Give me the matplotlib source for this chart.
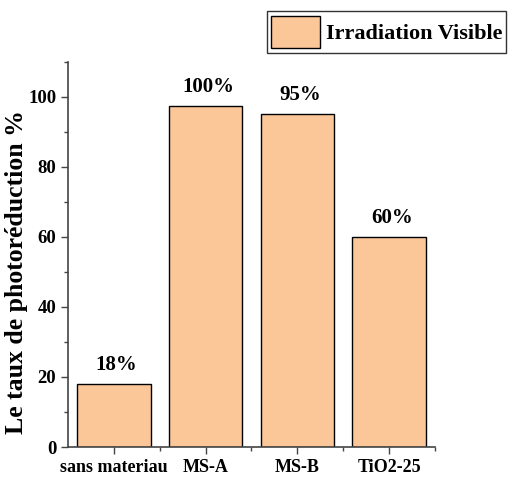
import matplotlib
matplotlib.use('Agg')
import matplotlib.pyplot as plt
from matplotlib.ticker import MultipleLocator, FixedLocator

plt.rcParams['font.family'] = ['Liberation Serif', 'DejaVu Serif']
plt.rcParams['font.weight'] = 'bold'

categories = ["sans materiau", "MS-A", "MS-B", "TiO2-25"]
values = [18, 97.5, 95.2, 60]
labels = ["18%", "100%", "95%", "60%"]
series_name = "Irradiation Visible"

FILL = '#FBC799'
AXC = '#444444'

fig = plt.figure(figsize=(5.08, 4.83), dpi=100)
ax = fig.add_axes([0.134, 0.0745, 0.722, 0.7975])

x = list(range(len(categories)))
bars = ax.bar(x, values, width=0.8, color=FILL, edgecolor='black',
              linewidth=1.0, label=series_name)

for xi, v, lab in zip(x, values, labels):
    ax.text(xi + 0.03, v + 2.5, lab, ha='center', va='bottom',
            fontsize=15, fontweight='bold')

ax.set_xlim(-0.5, 3.5)
ax.set_ylim(0, 110)
ax.set_xticks(x)
ax.set_xticklabels(categories, fontsize=13, fontweight='bold')
ax.xaxis.set_minor_locator(FixedLocator([0.5, 1.5, 2.5, 3.5]))
ax.yaxis.set_major_locator(MultipleLocator(20))
ax.yaxis.set_minor_locator(MultipleLocator(10))
ax.tick_params(axis='y', labelsize=13.5)
ax.tick_params(which='both', direction='out', color=AXC, width=1.0)
ax.tick_params(which='major', length=5)
ax.tick_params(which='minor', length=3)
for lab in ax.get_yticklabels():
    lab.set_fontweight('bold')

for s in ['top', 'right']:
    ax.spines[s].set_visible(False)
for s in ['left', 'bottom']:
    ax.spines[s].set_color(AXC)
    ax.spines[s].set_linewidth(1.2)

ax.set_ylabel("Le taux de photoréduction %", fontsize=18.5, fontweight='bold')
ax.yaxis.set_label_coords(-0.11, 0.455)

leg = fig.legend(handles=[bars], labels=[series_name], loc='upper right',
                 bbox_to_anchor=(0.997, 0.977), fancybox=False, frameon=True,
                 edgecolor='black', handlelength=2.2, handleheight=1.9,
                 borderpad=0.2, handletextpad=0.25, borderaxespad=0,
                 prop={'size': 16, 'weight': 'bold'})
leg.get_frame().set_linewidth(1.0)

fig.savefig('out.png', dpi=100)
